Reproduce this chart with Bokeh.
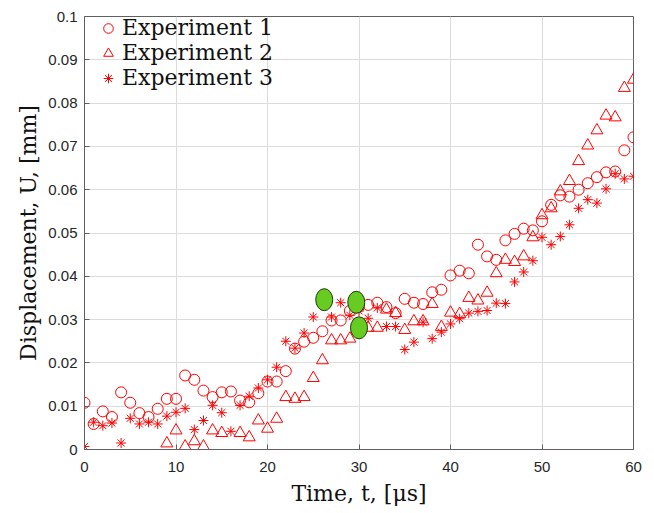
import math
from bokeh.plotting import figure
from bokeh.models import ColumnDataSource, FixedTicker, Legend, LegendItem, Range1d
from bokeh.embed import file_html
from bokeh.resources import INLINE

NaN = float("nan")

time_us = list(range(0, 61))

exp1 = [0.0108, 0.0059, 0.0088, 0.0075, 0.0132, 0.0108, 0.0084, 0.0075, 0.0094, 0.0117,
        0.0117, 0.0171, 0.0161, 0.0136, 0.0121, 0.0132, 0.0134, 0.0113, 0.0109, 0.0130,
        0.0157, 0.0157, 0.0181, 0.0233, 0.0249, 0.0258, 0.0273, 0.0298, 0.0298, 0.0320,
        0.0330, 0.0334, 0.0339, 0.0329, 0.0315, 0.0348, 0.0339, 0.0336, 0.0363, 0.0369,
        0.0402, 0.0413, 0.0407, 0.0473, 0.0446, 0.0438, 0.0483, 0.0498, 0.0510, 0.0506,
        0.0527, 0.0565, 0.0587, 0.0584, 0.0600, 0.0615, 0.0629, 0.0640, 0.0642, 0.0691,
        0.0721]

exp2 = [NaN, NaN, NaN, NaN, NaN, NaN, NaN, NaN, NaN, 0.0014,
        0.0044, 0.0007, 0.0019, 0.0007, 0.0044, 0.0038, NaN, 0.0038, 0.0028, 0.0067,
        0.0048, 0.0071, 0.0121, 0.0117, 0.0121, 0.0165, 0.0206, 0.0252, 0.0252, 0.0256,
        0.0280, 0.0281, 0.0281, 0.0323, 0.0315, 0.0276, 0.0296, 0.0296, 0.0336, 0.0283,
        0.0316, 0.0313, 0.0350, 0.0344, 0.0362, 0.0407, 0.0438, 0.0433, 0.0446, 0.0490,
        0.0541, 0.0557, 0.0596, 0.0620, 0.0666, 0.0702, 0.0737, 0.0771, 0.0767, 0.0835,
        0.0854]

exp3 = [0.0007, 0.0063, 0.0055, 0.0061, 0.0015, 0.0072, 0.0059, 0.0063, 0.0059, 0.0077,
        0.0086, 0.0095, 0.0046, 0.0067, 0.0102, 0.0085, 0.0042, 0.0102, 0.0123, 0.0142,
        0.0161, 0.0190, 0.0250, 0.0234, 0.0269, 0.0306, 0.0340, 0.0306, 0.0339, 0.0310,
        0.0320, 0.0303, 0.0327, 0.0284, 0.0284, 0.0231, 0.0248, 0.0294, 0.0256, 0.0271,
        0.0290, 0.0302, 0.0315, 0.0319, 0.0321, 0.0338, 0.0337, 0.0387, 0.0410, 0.0436,
        0.0490, 0.0473, 0.0492, 0.0519, 0.0557, 0.0577, 0.0569, 0.0602, 0.0637, 0.0625,
        0.0631]

highlight_t = [26.2, 29.7, 30.0]
highlight_u = [0.0346, 0.0340, 0.0281]

series_names = ["Experiment 1", "Experiment 2", "Experiment 3"]
x_ticks = [0, 10, 20, 30, 40, 50, 60]
y_ticks = [i / 100 for i in range(11)]
y_tick_labels = ["0", "0.01", "0.02", "0.03", "0.04", "0.05", "0.06", "0.07", "0.08", "0.09", "0.1"]

SERIF = "DejaVu Serif"
SANS = "Liberation Sans"
RED = "#ff0000"

p = figure(width=654, height=513, output_backend="svg", toolbar_location=None,
           x_range=Range1d(0, 60), y_range=Range1d(0, 0.1),
           min_border_left=84, min_border_right=21, min_border_top=16, min_border_bottom=64)
p.background_fill_color = "white"
p.border_fill_color = "white"
p.outline_line_color = "#606060"
p.outline_line_width = 1

for ax in (p.xaxis[0], p.yaxis[0]):
    ax.axis_line_color = "#606060"
    ax.major_tick_line_color = "#606060"
    ax.major_tick_in = 5
    ax.major_tick_out = 0
    ax.minor_tick_line_color = None
    ax.major_label_text_font = SANS
    ax.major_label_text_font_size = "15px"
    ax.major_label_text_color = "#262626"
    ax.axis_label_text_font = SERIF
    ax.axis_label_text_font_size = "22px"
    ax.axis_label_text_font_style = "normal"
    ax.axis_label_text_color = "#111111"

p.xaxis.ticker = FixedTicker(ticks=x_ticks)
p.yaxis.ticker = FixedTicker(ticks=y_ticks)
p.yaxis.major_label_overrides = {v: s for v, s in zip(y_ticks, y_tick_labels)}
p.xaxis.major_label_standoff = 12
p.yaxis.major_label_standoff = 7
p.xaxis.axis_label = "Time, t, [μs]"
p.yaxis.axis_label = "Displacement, U, [mm]"
p.xaxis.axis_label_standoff = 6
p.yaxis.axis_label_standoff = 4

p.xgrid.ticker = FixedTicker(ticks=x_ticks)
p.ygrid.ticker = FixedTicker(ticks=y_ticks)
p.xgrid.grid_line_color = "#dcdcdc"
p.ygrid.grid_line_color = "#dcdcdc"

src = ColumnDataSource(dict(t=time_us, e1=exp1, e2=exp2, e3=exp3))
r1 = p.scatter("t", "e1", source=src, marker="circle", size=11, fill_color=None,
               line_color=RED, line_width=1)
r2 = p.scatter("t", "e2", source=src, marker="triangle", size=12, fill_color=None,
               line_color=RED, line_width=1)
r3 = p.scatter("t", "e3", source=src, marker="asterisk", size=10, fill_color=None,
               line_color=RED, line_width=1)

hsrc = ColumnDataSource(dict(t=highlight_t, u=highlight_u))
p.ellipse("t", "u", source=hsrc, width=17, height=22, width_units="screen",
          height_units="screen", fill_color="#66cc22", line_color="#1f3a0a", line_width=1)

legend = Legend(items=[LegendItem(label=series_names[0], renderers=[r1]),
                       LegendItem(label=series_names[1], renderers=[r2]),
                       LegendItem(label=series_names[2], renderers=[r3])],
                location=(12, 359), padding=0, margin=0, spacing=-1,
                glyph_width=24, glyph_height=24, label_standoff=2,
                label_text_font=SERIF, label_text_font_size="22px",
                label_text_color="#111111",
                background_fill_alpha=0, border_line_color=None)
p.add_layout(legend)

open("out.html", "w").write(file_html(p, INLINE))
